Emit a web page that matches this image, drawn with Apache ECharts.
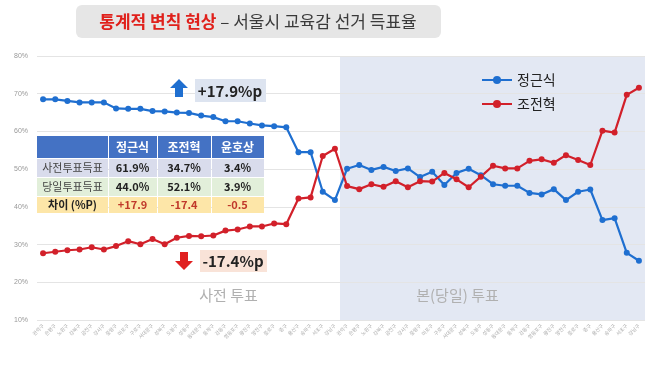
<!DOCTYPE html>
<html><head><meta charset="utf-8">
<script src="https://cdn.jsdelivr.net/npm/echarts@6/dist/echarts.min.js"></script>
<style>html,body{margin:0;padding:0;background:#fff}#c{width:662px;height:366px}</style>
</head><body><div id="c"></div>
<script>
const districts = ['관악구','은평구','노원구','강북구','금천구','강서구','중랑구','마포구','구로구','서대문구','성북구','도봉구','성동구','동대문구','동작구','강동구','영등포구','광진구','양천구','종로구','중구','용산구','송파구','서초구','강남구'];
const categories = districts.concat(districts);
const jungEarly = [68.5,68.5,68.1,67.7,67.7,67.7,66.1,66.0,66.0,65.4,65.3,65.0,64.9,64.2,63.8,62.7,62.7,62.1,61.6,61.4,61.1,54.5,54.5,44.0,41.8];
const jungDay = [50.1,51.1,49.8,50.6,49.5,50.2,47.9,49.3,45.8,49.0,50.1,48.4,46.0,45.6,45.6,43.7,43.3,44.7,41.8,44.0,44.6,36.5,37.0,27.8,25.7];
const joEarly = [27.7,28.1,28.5,28.7,29.3,28.7,29.6,30.9,30.1,31.5,30.1,31.8,32.3,32.2,32.4,33.7,34.0,34.8,34.8,35.6,35.4,42.2,42.5,53.5,55.4];
const joDay = [45.5,44.7,46.0,45.3,46.8,45.2,46.8,46.7,49.0,47.3,45.2,48.0,50.9,50.2,50.2,52.2,52.6,51.7,53.7,52.4,51.1,60.2,59.7,69.7,71.6];
const seriesNames = ['정근식','조전혁'];
const yTicks = [10,80,10];
const tableHeader = ['', '정근식','조전혁','윤호상'];
const tableRows = [
  ['사전투표득표','61.9%','34.7%','3.4%'],
  ['당일투표득표','44.0%','52.1%','3.9%'],
  ['차이 (%P)','+17.9','-17.4','-0.5']
];
const upText = '+17.9%p', downText = '-17.4%p';
const sectionLabels = ['사전 투표','본(당일) 투표'];
const titleRed = '통계적 변칙 현상', titleRest = ' – 서울시 교육감 선거 득표율';

const BLUE = '#1f6fd0', RED = '#d2202a';
const chart = echarts.init(document.getElementById('c'));
const font = '"Noto Sans CJK KR", "Noto Sans", sans-serif';

// table graphics
const colX = [37,108,157,211,264];
const rowY = [136,158,177,196,213];
const rowBg = ['#4472c4','#d9dcec','#e2efda','#fde6a8'];
const tableG = [];
for (let r = 0; r < 4; r++) {
  for (let c = 0; c < 4; c++) {
    tableG.push({type:'rect', shape:{x:colX[c]+(c?1:0), y:rowY[r]+(r?1:0), width:colX[c+1]-colX[c]-(c?1:0), height:rowY[r+1]-rowY[r]-(r?1:0)}, style:{fill:rowBg[r]}, silent:true});
    const txt = r === 0 ? tableHeader[c] : tableRows[r-1][c];
    if (!txt) continue;
    let color = '#222', weight = 'normal';
    if (r === 0) { color = '#fff'; weight = 'bold'; }
    else if (r === 3) { color = c === 0 ? '#222' : '#c0392b'; weight = 'bold'; }
    else if (c > 0) { weight = 'bold'; }
    if (r > 0 && r < 3 && c === 0) color = '#444';
    tableG.push({type:'text', x:(colX[c]+colX[c+1])/2, y:(rowY[r]+rowY[r+1])/2+0.5, style:{text:txt, fill:color, font:`${weight} ${r===0?12:11}px ${font}`, textAlign:'center', textVerticalAlign:'middle'}, silent:true});
  }
}

const option = {
  animation:false,
  backgroundColor:'#fff',
  grid:{left:37, right:17, top:56, bottom:46},
  legend:{
    data:seriesNames, orient:'vertical', left:476, top:68, itemWidth:30, itemHeight:10, itemGap:10,
    textStyle:{fontSize:14, color:'#222', fontFamily:font}
  },
  xAxis:{
    type:'category', data:categories, boundaryGap:true,
    axisLine:{show:false}, axisTick:{show:false},
    axisLabel:{interval:0, rotate:45, fontSize:5, color:'#aaa', margin:5, fontFamily:font}
  },
  yAxis:{
    type:'value', min:yTicks[0], max:yTicks[1], interval:yTicks[2],
    axisLabel:{formatter:'{value}%', fontSize:7, color:'#999', margin:9},
    splitLine:{lineStyle:{color:'#e4e4e4'}},
    axisLine:{show:false}, axisTick:{show:false}
  },
  series:[
    {name:seriesNames[0], type:'line', data:jungEarly.concat(jungDay), color:BLUE, symbol:'circle', symbolSize:6, lineStyle:{width:2.2, color:BLUE}, itemStyle:{color:BLUE}, z:3},
    {name:seriesNames[1], type:'line', data:joEarly.concat(joDay), color:RED, symbol:'circle', symbolSize:6, lineStyle:{width:2.2, color:RED}, itemStyle:{color:RED}, z:3}
  ]
};
chart.setOption(option);

// shaded day-vote region derived from axis
const pA = chart.convertToPixel({xAxisIndex:0}, 24);
const pB = chart.convertToPixel({xAxisIndex:0}, 25);
const pTop = chart.convertToPixel({yAxisIndex:0}, yTicks[1]);
const pBot = chart.convertToPixel({yAxisIndex:0}, yTicks[0]);
const xSplit = (pA + pB) / 2 - 1;
const xRight = 662 - 17;

chart.setOption({
  graphic:[
    {type:'rect', z:-1, zlevel:0, silent:true, shape:{x:xSplit, y:pTop, width:xRight-xSplit, height:pBot-pTop}, style:{fill:'#e3e8f3'}},
    // title
    {type:'rect', silent:true, shape:{x:76, y:5, width:365, height:33, r:6}, style:{fill:'#e6e6e6'}},
    {type:'text', silent:true, x:258, y:22, style:{
      rich:{r:{fill:'#e0201b', fontWeight:'bold', fontSize:17, fontFamily:font}, g:{fill:'#3a3a3a', fontSize:17, fontFamily:font}},
      text:'{r|'+titleRed+'}{g|'+titleRest+'}', textAlign:'center', textVerticalAlign:'middle'}},
    // up arrow + box
    {type:'polygon', silent:true, shape:{points:[[179,79],[188,88],[183,88],[183,97],[175,97],[175,88],[170,88]]}, style:{fill:'#1f6fd0'}},
    {type:'rect', silent:true, shape:{x:195, y:79, width:71, height:23}, style:{fill:'#dde4f0'}},
    {type:'text', silent:true, x:230, y:91, style:{text:upText, fill:'#222', font:`bold 15px ${font}`, textAlign:'center', textVerticalAlign:'middle'}},
    // down arrow + box
    {type:'polygon', silent:true, shape:{points:[[180,252],[188,252],[188,261],[193,261],[184,270],[175,261],[180,261]]}, style:{fill:'#e02020'}},
    {type:'rect', silent:true, shape:{x:200, y:250, width:67, height:22}, style:{fill:'#f9e3d8'}},
    {type:'text', silent:true, x:233, y:261, style:{text:downText, fill:'#222', font:`bold 15px ${font}`, textAlign:'center', textVerticalAlign:'middle'}},
    // section labels
    {type:'text', silent:true, x:(37+xSplit)/2+40, y:295, style:{text:sectionLabels[0], fill:'#b0b0b0', font:`15px ${font}`, textAlign:'center', textVerticalAlign:'middle'}},
    {type:'text', silent:true, x:(xSplit+xRight)/2-35, y:295, style:{text:sectionLabels[1], fill:'#b0b0b0', font:`15px ${font}`, textAlign:'center', textVerticalAlign:'middle'}}
  ].concat(tableG)
});
</script></body></html>
